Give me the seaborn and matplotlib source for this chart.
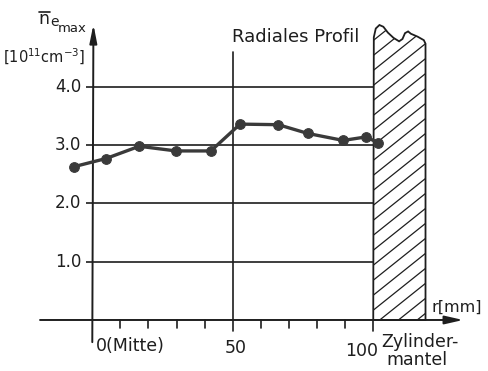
import numpy as np
import pandas as pd
import matplotlib
matplotlib.use("Agg")
import matplotlib.pyplot as plt
from matplotlib.patches import Polygon
import seaborn as sns

# Radial profile of the peak electron density
r_mm = [-6.5, 4.9, 16.7, 29.8, 42.2, 52.6, 66.2, 76.7, 89.3, 97.4, 101.8]
n_e_max = [2.63, 2.77, 2.98, 2.90, 2.90, 3.36, 3.35, 3.20, 3.08, 3.14, 3.04]

y_ticks = [1.0, 2.0, 3.0, 4.0]
y_tick_labels = ["1.0", "2.0", "3.0", "4.0"]
x_minor_ticks = [10, 20, 30, 40, 60, 70, 80, 90]

sns.set_style("white")
plt.rcParams["font.family"] = ["DejaVu Sans"]
plt.rcParams["mathtext.fontset"] = "dejavusans"

INK = "#1e1e1e"
fig = plt.figure(figsize=(4.89, 3.71), dpi=100)
ax = fig.add_axes([0, 0, 1, 1])
ax.set_xlim(-32.85, 141.2)
ax.set_ylim(-0.875, 5.489)
ax.axis("off")

# grid lines and reference lines
for yv in y_ticks:
    ax.plot([-2.4, 100], [yv, yv], color=INK, lw=1.2, solid_capstyle="butt")
ax.plot([50, 50], [-0.19, 4.6], color=INK, lw=1.2)
ax.plot([100, 100], [-0.19, 0], color=INK, lw=1.2)
for xv in x_minor_ticks:
    ax.plot([xv, xv], [0, -0.14], color=INK, lw=1.2)

# axes with arrows
ax.annotate("", xy=(132, 0), xytext=(-18.6, 0),
            arrowprops=dict(arrowstyle="-|>,head_length=1.1,head_width=0.25",
                            color=INK, lw=1.4, shrinkA=0, shrinkB=0))
ax.annotate("", xy=(0.4, 5.07), xytext=(0, -0.38),
            arrowprops=dict(arrowstyle="-|>,head_length=1.1,head_width=0.22",
                            color=INK, lw=1.4, shrinkA=0, shrinkB=0))

# cylinder wall, hatched, with a broken top edge
wall = [(100.0, 0.0), (100.2, 4.85), (100.9, 5.0), (102.2, 5.06), (103.6, 5.03),
        (105.2, 4.93), (107.2, 4.84), (109.2, 4.78), (110.4, 4.82), (111.3, 4.92),
        (112.4, 4.95), (113.4, 4.91), (115.8, 4.86), (118.0, 4.80), (118.6, 4.74),
        (118.6, 0.0)]
wall_patch = Polygon(wall, closed=True, fill=False, edgecolor=INK, lw=1.3, zorder=3)
ax.add_patch(wall_patch)
slope = 0.8 * 2.81 / 58.3
for c in np.arange(-6.0, 5.5, 0.257):
    xs = np.array([98.0, 121.0])
    line, = ax.plot(xs, c + slope * (xs - 100.0), color=INK, lw=0.9, zorder=2)
    line.set_clip_path(wall_patch)

# measured profile
df = pd.DataFrame({"r": r_mm, "n": n_e_max})
sns.lineplot(data=df, x="r", y="n", ax=ax, sort=False, color="#3a3a3a", lw=2.4,
             marker="o", markersize=7, markeredgecolor="#3a3a3a", zorder=4)

# tick labels
for yv, lab in zip(y_ticks, y_tick_labels):
    ax.text(-3.9, yv, lab, ha="right", va="center", fontsize=12, color=INK)
ax.text(1.3, -0.54, "0(Mitte)", ha="left", va="baseline", fontsize=12.5, color=INK)
ax.text(51.0, -0.57, "50", ha="center", va="baseline", fontsize=12.5, color=INK)
ax.text(101.7, -0.61, "100", ha="right", va="baseline", fontsize=12.5, color=INK)
ax.text(103.0, -0.463, "Zylinder-", ha="left", va="baseline", fontsize=12.5, color=INK)
ax.text(104.8, -0.77, "mantel", ha="left", va="baseline", fontsize=12.5, color=INK)
ax.text(120.6, 0.14, "r[mm]", ha="left", va="baseline", fontsize=11.5, color=INK)
ax.text(72.5, 4.774, "Radiales Profil", ha="center", va="baseline", fontsize=13, color=INK)

# axis title: n with overbar, subscripts e and max
ax.text(-19.2, 5.077, "n", ha="left", va="baseline", fontsize=12.5, color=INK)
ax.plot([-18.9, -15.2], [5.29, 5.29], color=INK, lw=1.2)
ax.text(-15.1, 5.05, "e", ha="left", va="baseline", fontsize=10, color=INK)
ax.text(-12.4, 4.94, "max", ha="left", va="baseline", fontsize=9.5, color=INK)
ax.text(-2.6, 4.41, r"[10$^{11}$cm$^{-3}$]", ha="right", va="baseline",
        fontsize=10.5, color=INK)

fig.savefig("out.png", dpi=100, facecolor="white")
